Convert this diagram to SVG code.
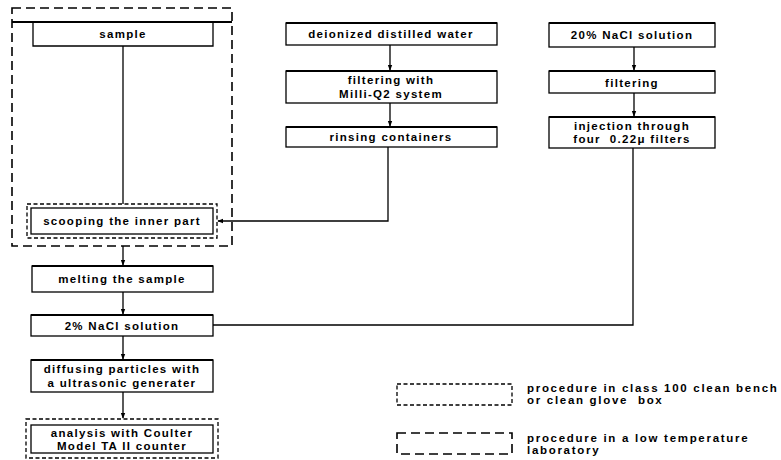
<svg xmlns="http://www.w3.org/2000/svg" width="781" height="460" viewBox="0 0 781 460">
<style>
.box{fill:none;stroke:#000;stroke-width:1.3}
.top{stroke:#000;stroke-width:2}
.t{font-family:"Liberation Sans",Arial,sans-serif;font-weight:bold;font-size:11.5px;letter-spacing:1.3px;text-anchor:middle;fill:#000;white-space:pre}
.lg{font-family:"Liberation Sans",Arial,sans-serif;font-weight:bold;font-size:11.5px;letter-spacing:1.7px;fill:#000;white-space:pre}
.ln{fill:none;stroke:#000;stroke-width:1.3}
.cold{fill:none;stroke:#000;stroke-width:1.6;stroke-dasharray:9,5}
.clean{fill:none;stroke:#000;stroke-width:1.3;stroke-dasharray:4,2.5}
</style>
<defs>
<marker id="ah" viewBox="0 0 8 8" refX="7" refY="4" markerWidth="6" markerHeight="6" orient="auto" markerUnits="userSpaceOnUse">
<path d="M0,1 L8,4 L0,7 Z" fill="#000"/>
</marker>
</defs>

<g id="lowtemp-area">
<rect class="cold" x="12" y="8" width="220" height="238"/>
<line class="top" x1="12" y1="22" x2="232" y2="22"/>
</g>

<g id="sample">
<path class="box" d="M33,22 V46 H213 V22"/>
<text class="t" x="123" y="38">sample</text>
</g>

<g id="scooping">
<rect class="clean" x="27" y="204" width="190" height="34"/>
<rect class="box" x="31" y="208" width="182" height="26" stroke-width="1.8"/>
<text class="t" x="122" y="225">scooping the inner part</text>
</g>

<g id="melting">
<rect class="box" x="32" y="266" width="181" height="26"/>
<line class="top" x1="32" y1="266" x2="213" y2="266"/>
<text class="t" x="122" y="283">melting the sample</text>
</g>

<g id="nacl2">
<rect class="box" x="31" y="315" width="182" height="21"/>
<line class="top" x1="31" y1="315" x2="213" y2="315"/>
<text class="t" x="122" y="330">2% NaCl solution</text>
</g>

<g id="diffusing">
<rect class="box" x="31" y="360" width="182" height="32"/>
<line class="top" x1="31" y1="360" x2="213" y2="360"/>
<text class="t" x="122" y="373">diffusing particles with</text>
<text class="t" x="122" y="387">a ultrasonic generater</text>
</g>

<g id="analysis">
<rect class="clean" x="26" y="419" width="192" height="39"/>
<rect class="box" x="31" y="425" width="182" height="28" stroke-width="1.6"/>
<text class="t" x="122" y="437">analysis with Coulter</text>
<text class="t" x="122" y="450">Model TA II counter</text>
</g>

<g id="water">
<rect class="box" x="286" y="23" width="211" height="22"/>
<line class="top" x1="286" y1="23" x2="497" y2="23"/>
<text class="t" x="391" y="38">deionized distilled water</text>
</g>

<g id="milliq">
<rect class="box" x="286" y="71" width="211" height="32"/>
<line class="top" x1="286" y1="71" x2="497" y2="71"/>
<text class="t" x="391" y="84">filtering with</text>
<text class="t" x="391" y="98">Milli-Q2 system</text>
</g>

<g id="rinsing">
<rect class="box" x="286" y="127" width="211" height="20"/>
<line class="top" x1="286" y1="127" x2="497" y2="127"/>
<text class="t" x="391" y="141">rinsing containers</text>
</g>

<g id="nacl20">
<rect class="box" x="549" y="23" width="166" height="24"/>
<line class="top" x1="549" y1="23" x2="715" y2="23"/>
<text class="t" x="632" y="39">20% NaCl solution</text>
</g>

<g id="filtering">
<rect class="box" x="549" y="71" width="166" height="22"/>
<line class="top" x1="549" y1="71" x2="715" y2="71"/>
<text class="t" x="632" y="87">filtering</text>
</g>

<g id="injection">
<rect class="box" x="549" y="117" width="166" height="31"/>
<line class="top" x1="549" y1="117" x2="715" y2="117"/>
<text class="t" x="632" y="130">injection through</text>
<text class="t" x="632" y="143">four  0.22μ filters</text>
</g>

<g id="connectors">
<line class="ln" x1="123" y1="46" x2="123" y2="204"/>
<line class="ln" x1="123" y1="246" x2="123" y2="265" marker-end="url(#ah)"/>
<line class="ln" x1="123" y1="292" x2="123" y2="314" marker-end="url(#ah)"/>
<line class="ln" x1="123" y1="336" x2="123" y2="359" marker-end="url(#ah)"/>
<line class="ln" x1="123" y1="392" x2="123" y2="418" marker-end="url(#ah)"/>
<line class="ln" x1="390" y1="45" x2="390" y2="70" marker-end="url(#ah)"/>
<line class="ln" x1="390" y1="103" x2="390" y2="126" marker-end="url(#ah)"/>
<polyline class="ln" points="388,147 388,221 218,221" marker-end="url(#ah)"/>
<line class="ln" x1="634" y1="47" x2="634" y2="70" marker-end="url(#ah)"/>
<line class="ln" x1="634" y1="93" x2="634" y2="116" marker-end="url(#ah)"/>
<polyline class="ln" points="633,148 633,325 213,325"/>
</g>

<g id="legend-clean">
<rect class="clean" x="397" y="384" width="115" height="21"/>
<text class="lg" x="527" y="392">procedure in class 100 clean bench</text>
<text class="lg" x="527" y="404">or clean glove  box</text>
</g>

<g id="legend-cold">
<rect class="cold" x="397" y="433" width="115" height="21" stroke-width="1.3"/>
<text class="lg" x="527" y="442">procedure in a low temperature</text>
<text class="lg" x="527" y="454">laboratory</text>
</g>
</svg>
